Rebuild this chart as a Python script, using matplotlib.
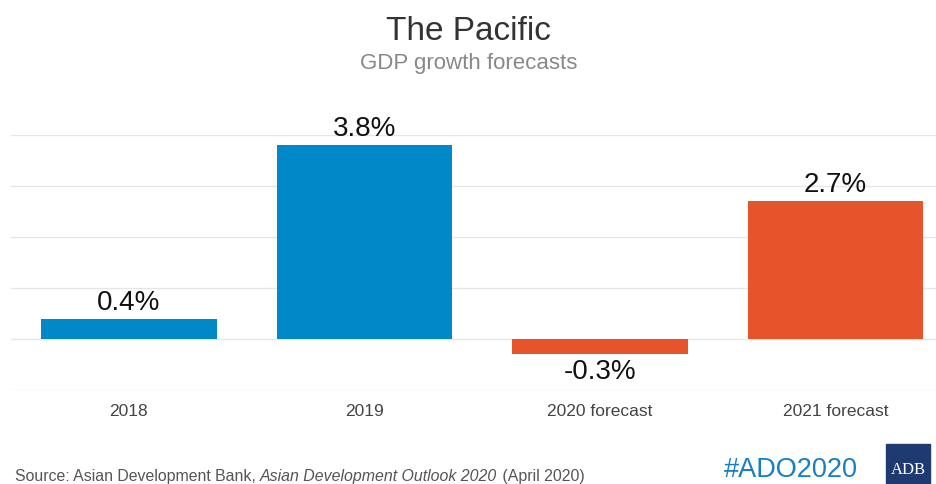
import matplotlib.pyplot as plt
from matplotlib.patches import Rectangle

plt.rcParams['font.family'] = ['Liberation Sans', 'DejaVu Sans']

# data
categories = ['2018', '2019', '2020 forecast', '2021 forecast']
growth = [0.4, 3.8, -0.3, 2.7]
labels = ['0.4%', '3.8%', '-0.3%', '2.7%']
colors = ['#0088C9', '#0088C9', '#E5542B', '#E5542B']

fig = plt.figure(figsize=(9.37, 4.84), dpi=100)
ax = fig.add_axes([11 / 937, 94 / 484, (937 - 11) / 937, 255 / 484])

x = range(len(categories))
ax.bar(x, growth, width=0.745, color=colors, zorder=2)

for i, v in enumerate(growth):
    if v >= 0:
        ax.text(i, v + 0.06, labels[i], ha='center', va='bottom', fontsize=20, color='#111111')
    else:
        ax.text(i, v - 0.1, labels[i], ha='center', va='top', fontsize=20, color='#111111')

ax.set_ylim(-1, 4)
ax.set_xlim(-0.5, 3.43)
ax.set_yticks([-1, 0, 1, 2, 3, 4])
ax.yaxis.grid(True, color='#e6e6e6', linewidth=1, zorder=0)
ax.set_yticklabels([])
ax.tick_params(axis='y', length=0)
ax.set_xticks(list(x))
ax.set_xticklabels(categories, fontsize=12.5, color='#444444')
ax.tick_params(axis='x', length=0, pad=10)
for s in ax.spines.values():
    s.set_visible(False)

fig.text(0.5, 1 - 32 / 484, 'The Pacific', ha='center', va='center', fontsize=24, color='#333333')
fig.text(0.5, 1 - 63 / 484, 'GDP growth forecasts', ha='center', va='center', fontsize=16, color='#888888')

# source line, pieces placed one after another
y_src = 1 - 477 / 484
t1 = fig.text(15 / 937, y_src, 'Source: Asian Development Bank, ', ha='left', va='center',
              fontsize=11.4, color='#555555')
t2 = ax.annotate('Asian Development Outlook 2020', xy=(1, 0.5), xycoords=t1, va='center',
                 fontsize=11.4, color='#555555', style='italic', annotation_clip=False)
t3 = ax.annotate(' (April 2020)', xy=(1, 0.5), xycoords=t2, va='center',
                 fontsize=11.4, color='#555555', annotation_clip=False)

fig.text(858 / 937, 1 - 470 / 484, '#ADO2020', ha='right', va='center', fontsize=19.5, color='#1A7FC1')

fig.patches.append(Rectangle((886 / 937, 0), 44 / 937, 40 / 484, transform=fig.transFigure,
                             color='#1F3A70', figure=fig))
fig.text(908 / 937, 1 - 470 / 484, 'ADB', ha='center', va='center', fontsize=12, color='white',
         family=['Liberation Serif', 'DejaVu Serif'])

fig.savefig('out.png', dpi=100)
